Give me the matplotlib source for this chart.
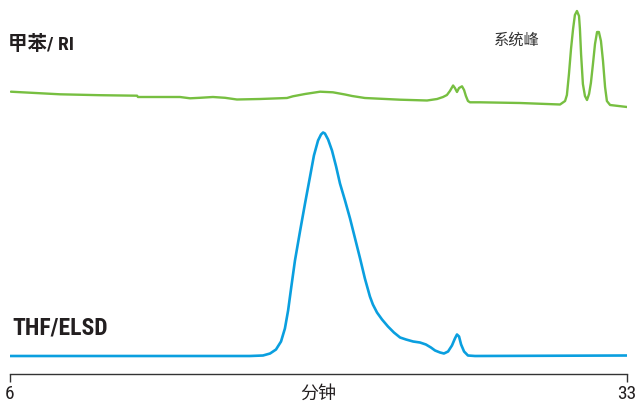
import matplotlib
matplotlib.use("Agg")
import matplotlib.pyplot as plt
from matplotlib import font_manager

# retention time (min) and detector response, ELSD trace (THF)
elsd_t = [6.0, 16.50, 17.07, 17.38, 17.64, 17.86, 18.03, 18.17, 18.30, 18.47,
          18.69, 18.91, 19.13, 19.30, 19.48, 19.61, 19.70, 19.78, 19.92, 20.09,
          20.27, 20.44, 20.66, 20.88, 21.10, 21.32, 21.53, 21.75, 21.88, 22.06,
          22.28, 22.54, 22.80, 23.07, 23.33, 23.64, 23.94, 24.20, 24.42, 24.60,
          24.82, 24.99, 25.17, 25.34, 25.47, 25.56, 25.65, 25.74, 25.87, 26.04,
          26.35, 33.0]
elsd_y = [0, 0, 0.5, 2.5, 6.5, 14.5, 27.5, 45.5, 67.5, 95.5,
          124.5, 152.5, 179.5, 200.5, 215.5, 221.5, 223.5, 222.5, 216.5, 205.5,
          189.5, 172.5, 155.5, 137.5, 117.5, 97.5, 77.5, 59.5, 51.5, 43.5,
          36.5, 29.5, 23.5, 18.5, 16.5, 14.5, 13.5, 11.5, 8.5, 5.5,
          3.5, 2.5, 4.5, 10.5, 17.5, 21.5, 19.5, 11.5, 4.5, 0.5,
          0, 0.5]

# RI trace (toluene), with the two system peaks near the end
ri_t = [6.04, 8.19, 9.94, 11.56, 11.60, 13.44, 13.88, 14.31, 14.88, 15.41,
        15.93, 16.94, 18.12, 18.38, 18.91, 19.57, 20.13, 20.66, 20.97, 21.53,
        23.07, 24.25, 24.69, 24.95, 25.12, 25.25, 25.39, 25.47, 25.56, 25.65,
        25.78, 25.87, 25.95, 26.04, 26.13, 26.57, 28.32, 30.07, 30.29, 30.37,
        30.46, 30.55, 30.64, 30.72, 30.81, 30.90, 30.94, 30.99, 31.03, 31.07,
        31.16, 31.25, 31.34, 31.42, 31.51, 31.60, 31.69, 31.77, 31.86, 31.95,
        32.04, 32.12, 32.26, 33.0]
ri_y = [17.3, 14.7, 13.8, 13.3, 12.0, 12.0, 10.7, 11.2, 12.0, 11.2,
        9.5, 10.0, 11.0, 12.7, 15.0, 17.3, 16.7, 14.5, 13.0, 11.0,
        9.3, 8.5, 10.0, 12.0, 14.0, 18.0, 23.5, 21.0, 17.0, 21.0,
        22.7, 19.0, 13.0, 8.0, 6.7, 6.7, 6.0, 4.5, 8.0, 14.0,
        35.0, 60.0, 80.0, 94.0, 98.0, 93.0, 80.0, 55.0, 40.0, 25.0,
        13.0, 9.0, 15.0, 26.0, 45.0, 65.0, 77.0, 77.0, 68.0, 48.0,
        22.0, 8.0, 4.0, 2.0]
RI_OFFSET = 247

names = ["甲苯/ RI", "THF/ELSD"]
peak_note = "系统峰"
x_label = "分钟"
x_ticks = [6, 33]

installed = {f.name for f in font_manager.fontManager.ttflist}
narrow = None
for cand in ["Liberation Sans Narrow", "Roboto Condensed", "Open Sans Condensed",
             "Noto Sans Condensed", "DejaVu Sans Condensed"]:
    if cand in installed:
        narrow = cand
        break
latin = narrow or "Liberation Sans"
latin_cjk = [latin, "Noto Sans CJK SC"]
cjk = ["Noto Sans CJK SC", latin]
big_size = 17 if narrow else 14

green = "#77bf41"
blue = "#0a9fdf"
ink = "#231f20"

fig = plt.figure(figsize=(6.39, 4.02), dpi=100)
ax = fig.add_axes([10 / 639, 27 / 402, 617 / 639, 375 / 402])

ax.plot(elsd_t, elsd_y, color=blue, lw=1.9, solid_joinstyle="round",
        solid_capstyle="round")
ax.plot(ri_t, [v + RI_OFFSET for v in ri_y], color=green, lw=1.7,
        solid_joinstyle="round", solid_capstyle="round")

ax.set_xlim(6, 33)
ax.set_ylim(-18, 357)
for s in ["top", "left", "right"]:
    ax.spines[s].set_visible(False)
ax.spines["bottom"].set_color("#333333")
ax.spines["bottom"].set_linewidth(1.0)
ax.set_yticks([])
ax.set_xticks(x_ticks)
ax.set_xticklabels([str(v) for v in x_ticks], family=latin_cjk, fontsize=14,
                   color=ink)
ax.tick_params(axis="x", direction="out", length=6, width=1,
               color="#333333", pad=1)
ax.set_xlabel(x_label, family=cjk, fontsize=13, color=ink, labelpad=-13)

ax.text(8 / 639, 1 - 44 / 402, names[0], transform=fig.transFigure,
        family=latin_cjk, fontsize=14, fontweight="bold", color=ink,
        va="center", ha="left")
ax.text(12 / 639, 1 - 328 / 402, names[1], transform=fig.transFigure,
        family=latin_cjk, fontsize=big_size, fontweight="bold", color=ink,
        va="center", ha="left")
ax.text(517 / 639, 1 - 40 / 402, peak_note, transform=fig.transFigure,
        family=cjk, fontsize=11, color="#333333", va="center", ha="center")

fig.savefig("out.png", dpi=100)
